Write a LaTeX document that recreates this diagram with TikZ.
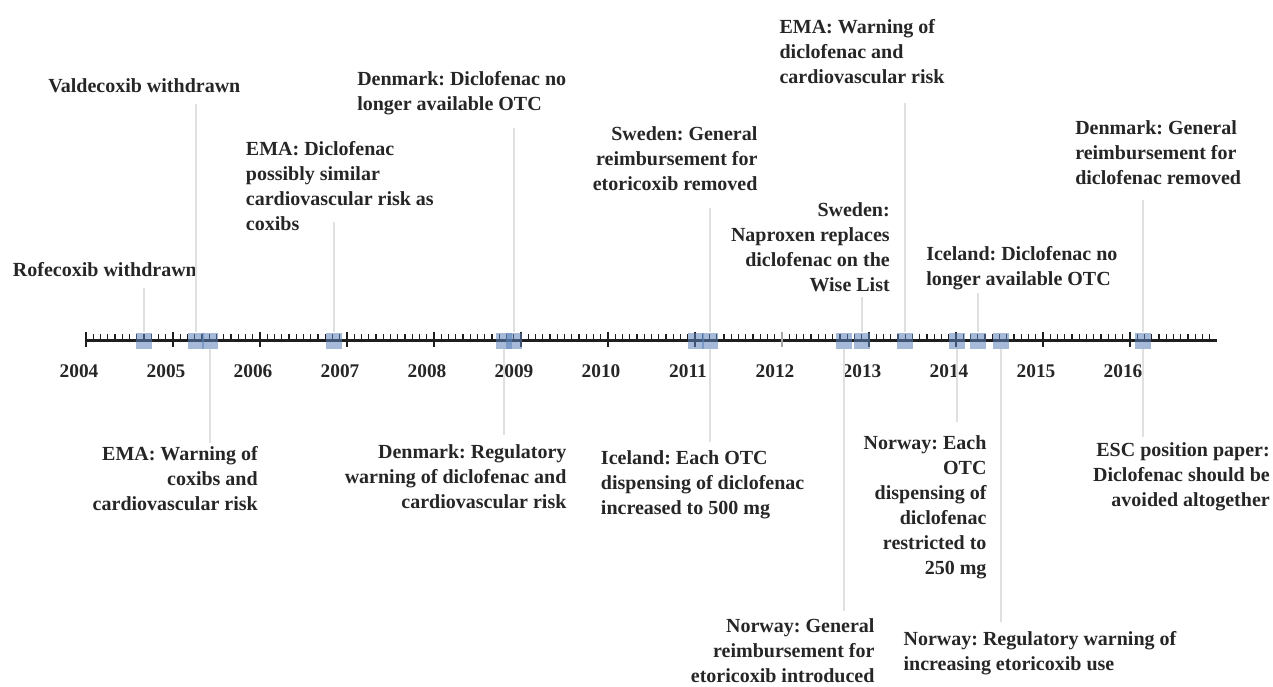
\documentclass[tikz,border=0pt]{standalone}
\usepackage{fontspec}
\setmainfont{Liberation Serif}
\definecolor{txt}{HTML}{262626}
\definecolor{axiscol}{HTML}{1E1E1E}
\definecolor{conncol}{HTML}{E0E0E0}
\definecolor{mkcol}{HTML}{5B82B8}
\frenchspacing
\begin{document}
\begin{tikzpicture}[x=0.75pt,y=-0.75pt,
  evt/.style={font=\fontsize{15}{18.75}\selectfont\bfseries\frenchspacing, text=txt, inner sep=0pt},
  evtL/.style={evt, anchor=north west, align=left},
  evtR/.style={evt, anchor=north east, align=right},
  yr/.style={font=\fontsize{14.5}{17}\selectfont\bfseries, text=txt, inner sep=0pt},
  mk/.style={rectangle, draw=none, fill=mkcol, fill opacity=0.55, minimum size=12pt, inner sep=0pt},
  conn/.style={draw=conncol, line width=1.5pt},
  minortick/.style={draw=axiscol, line width=0.9pt},
  majortick/.style={draw=axiscol, line width=1.5pt}]
\useasboundingbox (0,0) rectangle (1273,686);

% axis
\coordinate (axL) at (86,340.3);
\coordinate (axR) at (1217,340.3);
\draw[draw=axiscol, line width=2.4pt] (axL) -- (axR);
\foreach \i in {1,...,155}{
  \pgfmathtruncatemacro\rem{mod(\i,12)}
  \ifnum\rem>0
    \draw[minortick] ({86+\i*7.25},334) -- ({86+\i*7.25},340);
  \fi
}
\foreach \k in {0,...,12}{
  \pgfmathtruncatemacro\yy{2004+\k}
  \ifnum\k=8
    \draw[majortick, draw=gray!70] ({86+87*\k},331.7) -- ({86+87*\k},347.3);
  \else
    \draw[majortick] ({86+87*\k},331.7) -- ({86+87*\k},347.3);
  \fi
  \node[yr] (y\yy) at ({79+87*\k},371) {\yy};
}

% markers
\node[mk] (m1)  at (143.5,340.5) {};
\node[mk] (m2)  at (195.5,340.5) {};
\node[mk] (m3)  at (210,340.5) {};
\node[mk] (m4)  at (333.7,340.5) {};
\node[mk] (m6)  at (504,340.5) {};
\node[mk] (m5)  at (514.3,340.5) {};
\node[mk] (m0)  at (695.7,340.5) {};
\node[mk] (m7)  at (710,340.5) {};
\node[mk] (m9)  at (844,340.5) {};
\node[mk] (m10) at (861.5,340.5) {};
\node[mk] (m11) at (905,340.5) {};
\node[mk] (m12) at (956.7,340.5) {};
\node[mk] (m13) at (977.5,340.5) {};
\node[mk] (m14) at (1001,340.5) {};
\node[mk] (m15) at (1143,340.5) {};

% event texts
\node[evtL] (t1) at (12.7,262.5) {Rofecoxib withdrawn};
\node[evtL] (t2) at (48,78.5) {Valdecoxib withdrawn};
\node[evtR] (t3) at (258,446.5) {EMA: Warning of\\coxibs and\\cardiovascular risk};
\node[evtL] (t4) at (245.7,141.5) {EMA: Diclofenac\\possibly similar\\cardiovascular risk as\\coxibs};
\node[evtL] (t5) at (357,71.5) {Denmark: Diclofenac no\\longer available OTC};
\node[evtR] (t6) at (566.7,444.2) {Denmark: Regulatory\\warning of diclofenac and\\cardiovascular risk};
\node[evtR] (t7) at (757.7,126.5) {Sweden: General\\reimbursement for\\etoricoxib removed};
\node[evtL] (t8) at (600.7,450.8) {Iceland: Each OTC\\dispensing of diclofenac\\increased to 500 mg};
\node[evtR] (t9) at (874.7,618) {Norway: General\\reimbursement for\\etoricoxib introduced};
\node[evtR] (t10) at (890,202.5) {Sweden:\\Naproxen replaces\\diclofenac on the\\Wise List};
\node[evtL] (t11) at (779.3,19.5) {EMA: Warning of\\diclofenac and\\cardiovascular risk};
\node[evtR] (t12) at (986.7,435.8) {Norway: Each\\OTC\\dispensing of\\diclofenac\\restricted to\\250 mg};
\node[evtL] (t13) at (926,246.5) {Iceland: Diclofenac no\\longer available OTC};
\node[evtL] (t14) at (903.3,630.8) {Norway: Regulatory warning of\\increasing etoricoxib use};
\node[evtL] (t15) at (1075,120.5) {Denmark: General\\reimbursement for\\diclofenac removed};
\node[evtR] (t16) at (1270,442.5) {ESC position paper:\\Diclofenac should be\\avoided altogether};

% connector ends
\coordinate (c1) at (143.5,288);
\coordinate (c2) at (195.5,104);
\coordinate (c3) at (210,443);
\coordinate (c4) at (333.7,221.7);
\coordinate (c5) at (514.3,128);
\coordinate (c6) at (504,434.5);
\coordinate (c7) at (710,208);
\coordinate (c8) at (710,441.7);
\coordinate (c9) at (844,611);
\coordinate (c10) at (861.5,297);
\coordinate (c11) at (905,103);
\coordinate (c12) at (956.7,421.7);
\coordinate (c13) at (977.5,293);
\coordinate (c14) at (1001,621.7);
\coordinate (c15) at (1143,200);
\coordinate (c16) at (1143,436.7);

\draw[conn] (c1) -- (m1.north);
\draw[conn] (c2) -- (m2.north);
\draw[conn] (c3) -- (m3.south);
\draw[conn] (c4) -- (m4.north);
\draw[conn] (c5) -- (m5.north);
\draw[conn] (c6) -- (m6.south);
\draw[conn] (c7) -- (m7.north);
\draw[conn] (c8) -- (m7.south);
\draw[conn] (c9) -- (m9.south);
\draw[conn] (c10) -- (m10.north);
\draw[conn] (c11) -- (m11.north);
\draw[conn] (c12) -- (m12.south);
\draw[conn] (c13) -- (m13.north);
\draw[conn] (c14) -- (m14.south);
\draw[conn] (c15) -- (m15.north);
\draw[conn] (c16) -- (m15.south);
\end{tikzpicture}
\end{document}
